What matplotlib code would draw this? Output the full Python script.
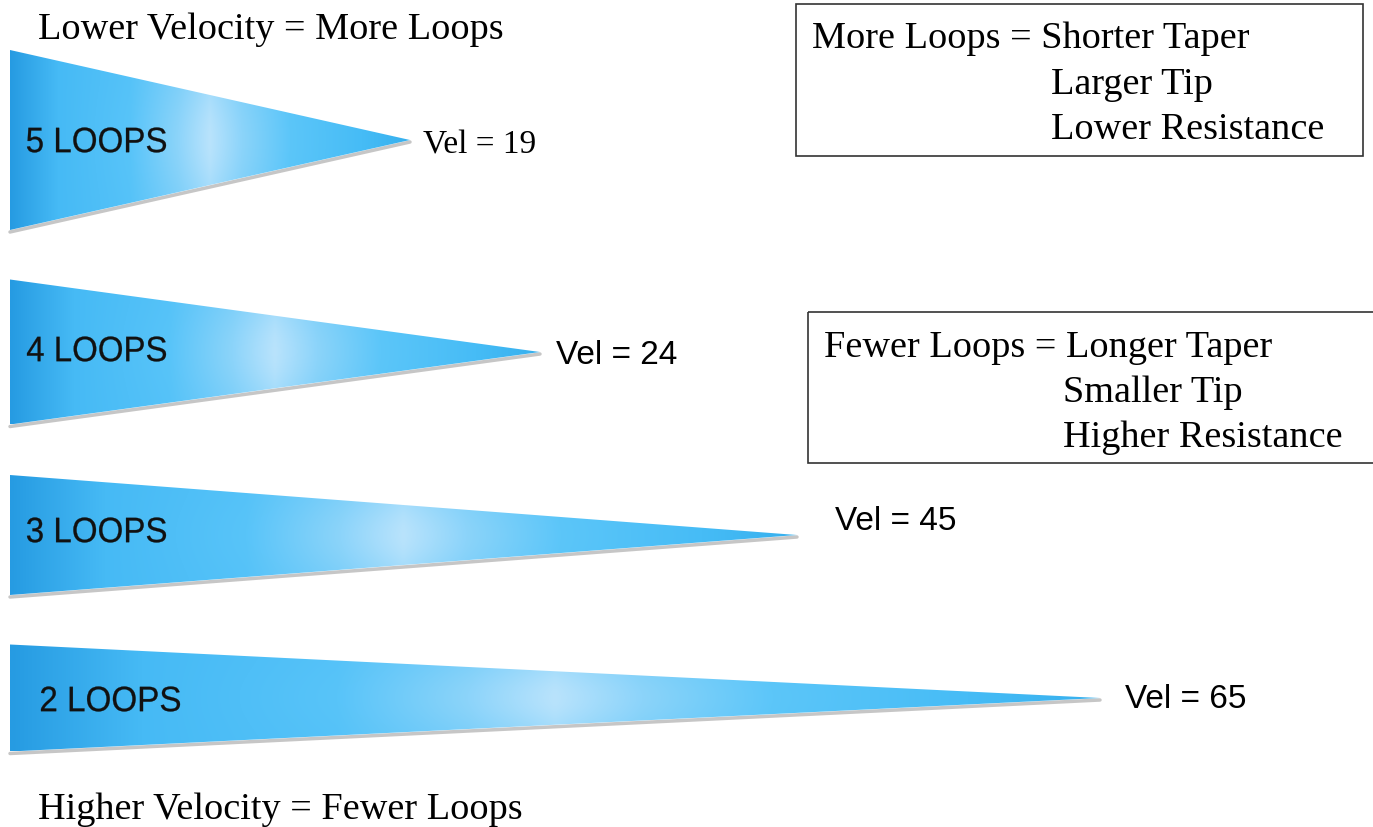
import numpy as np
import matplotlib.pyplot as plt
from matplotlib.patches import Polygon, Rectangle, PathPatch
from matplotlib.textpath import TextPath
from matplotlib.font_manager import FontProperties
from matplotlib.transforms import Affine2D

# dados
loops = [5, 4, 3, 2]
velocity = [19, 24, 45, 65]
taper_length = [400, 530, 787, 1090]   # comprimento do cone (px)
base_height = [180, 145, 120, 107]     # altura da base (px)

more_lines = ['More Loops = Shorter Taper', 'Larger Tip', 'Lower Resistance']
fewer_lines = ['Fewer Loops = Longer Taper', 'Smaller Tip', 'Higher Resistance']

W, H = 1373, 827
fig = plt.figure(figsize=(W / 100, H / 100), dpi=100)
ax = fig.add_axes([0, 0, 1, 1])
ax.set_xlim(0, W)
ax.set_ylim(H, 0)
ax.axis('off')

serif = 'Liberation Serif'
sans = 'Liberation Sans'

# posicoes verticais dos cones e dos rotulos
centers_y = [140, 352, 535, 698]
left_x = 10
loop_lbl = [(27, 140), (27, 349), (27, 530), (41, 699)]
vel_lbl = [(423, 145, serif), (556, 355, sans), (835, 521, sans), (1125, 699, sans)]

# perfil de cor ao longo do cone
stops_t = [0.0, 0.12, 0.3, 0.42, 0.5, 0.58, 0.7, 0.88, 1.0]
stops_c = np.array([[38, 155, 226], [70, 186, 245], [88, 196, 249], [140, 212, 250],
                    [185, 227, 252], [140, 212, 250], [92, 198, 249], [70, 188, 246],
                    [55, 176, 238]]) / 255


def texto_estreito(x, y, s, largura, altura):
    '''texto condensado (letra alta e estreita) desenhado como path'''
    tp = TextPath((0, 0), s, size=10, prop=FontProperties(family=sans))
    ext = tp.get_extents()
    sx = largura / ext.width
    sy = altura / ext.height
    tr = (Affine2D().translate(-ext.x0, -(ext.y0 + ext.height / 2))
          .scale(sx, -sy).translate(x, y))
    p = tr.transform_path(tp)
    ax.add_patch(PathPatch(p, facecolor='#111111', edgecolor='#111111',
                           lw=0.2, zorder=3))


for i in range(len(loops)):
    L = taper_length[i]
    h = base_height[i]
    cy = centers_y[i]
    top = cy - h / 2
    bot = cy + h / 2
    tip = (left_x + L, cy)

    # sombra por baixo
    ax.plot([left_x, tip[0]], [bot + 2, cy + 2], color='#444444', lw=2.5,
            alpha=0.3, solid_capstyle='round', zorder=1)

    # gradiente
    nx, ny = 400, 80
    t = np.linspace(0, 1, nx)
    v = np.linspace(-1, 1, ny)
    prof = np.stack([np.interp(t, stops_t, stops_c[:, c]) for c in range(3)], axis=1)
    base = np.stack([np.interp(t, [0, 0.12, 0.5, 0.88, 1], stops_c[[0, 1, 2, 7, 8], c])
                     for c in range(3)], axis=1)
    wv = 0.55 + 0.45 * np.exp(-(v / 0.7) ** 2)
    img = base[None, :, :] + (prof - base)[None, :, :] * wv[:, None, None]
    im = ax.imshow(img, extent=[left_x, tip[0], bot, top], aspect='auto',
                   interpolation='bilinear', zorder=2)
    tri = Polygon([(left_x, top), tip, (left_x, bot)], closed=True,
                  facecolor='none', edgecolor='none')
    ax.add_patch(tri)
    im.set_clip_path(tri)

    texto_estreito(loop_lbl[i][0], loop_lbl[i][1], f'{loops[i]} LOOPS', 139, 25)
    vx, vy, fam = vel_lbl[i]
    ax.text(vx, vy, f'Vel = {velocity[i]}', fontsize=24,
            family=fam, va='center', ha='left', zorder=3)

ax.set_xlim(0, W)
ax.set_ylim(H, 0)

ax.text(38, 30, 'Lower Velocity = More Loops', fontsize=27.5, family=serif,
        va='center', ha='left')
ax.text(38, 810, 'Higher Velocity = Fewer Loops', fontsize=27.5, family=serif,
        va='center', ha='left')

# caixas de texto
ax.add_patch(Rectangle((796, 4), 567, 152, fill=False, edgecolor='#333333', lw=1.2))
ax.add_patch(Rectangle((808, 312), 570, 151, fill=False, edgecolor='#333333', lw=1.2,
                       clip_on=False))

for j, s in enumerate(more_lines):
    x = 812 if j == 0 else 1051
    ax.text(x, 39 + 45.5 * j, s, fontsize=27.5, family=serif, va='center', ha='left')
for j, s in enumerate(fewer_lines):
    x = 824 if j == 0 else 1063
    ax.text(x, 348 + 45 * j, s, fontsize=27.5, family=serif, va='center', ha='left')

fig.savefig('out.png', dpi=100)
